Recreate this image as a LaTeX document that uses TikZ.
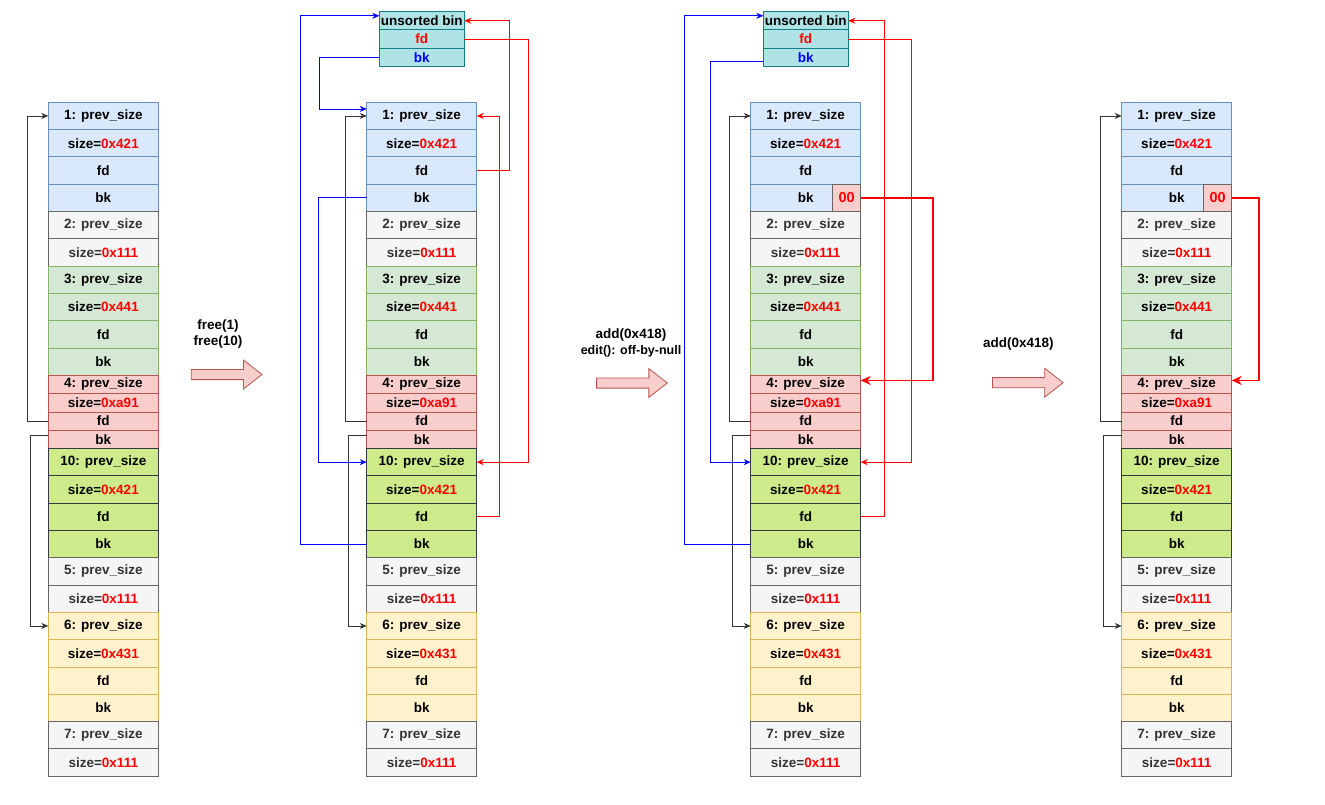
\documentclass[tikz,border=0pt]{standalone}
\usepackage{fontspec}
\setmainfont{Liberation Sans}
\usetikzlibrary{arrows.meta,positioning,shapes.arrows}
\definecolor{bluefill}{HTML}{DAE8FC}
\definecolor{blueedge}{HTML}{6C8EBF}
\definecolor{grayfill}{HTML}{F5F5F5}
\definecolor{grayedge}{HTML}{666666}
\definecolor{graytext}{HTML}{333333}
\definecolor{greenfill}{HTML}{D5E8D4}
\definecolor{greenedge}{HTML}{82B366}
\definecolor{redfill}{HTML}{F8CECC}
\definecolor{rededge}{HTML}{B85450}
\definecolor{limefill}{HTML}{CDEB8B}
\definecolor{limeedge}{HTML}{36393D}
\definecolor{yellowfill}{HTML}{FFF2CC}
\definecolor{yellowedge}{HTML}{D6B656}
\definecolor{binfill}{HTML}{B0E3E6}
\definecolor{binedge}{HTML}{0E8088}
\definecolor{ptrred}{HTML}{FF0000}
\definecolor{ptrblue}{HTML}{0000FF}

\newcommand{\hx}[1]{\textcolor{ptrred}{#1}}

% one column of the heap, #1 = prefix, #2 = left x
\newcommand{\heapcol}[2]{%
  \node[cell,chunkblue,anchor=north west] (#1-1p) at (#2,102.3) {1: prev\_size};
  \node[cell,chunkblue,below=0pt of #1-1p] (#1-1s) {size=\hx{0x421}};
  \node[cell,chunkblue,below=0pt of #1-1s] (#1-1f) {fd};
  \node[cell,chunkblue,below=0pt of #1-1f] (#1-1b) {bk};
  \node[cell,chunkgray,below=0pt of #1-1b] (#1-2p) {2: prev\_size};
  \node[cell,chunkgray,below=0pt of #1-2p] (#1-2s) {size=\hx{0x111}};
  \node[cell,chunkgreen,below=0pt of #1-2s] (#1-3p) {3: prev\_size};
  \node[cell,chunkgreen,below=0pt of #1-3p] (#1-3s) {size=\hx{0x441}};
  \node[cell,chunkgreen,below=0pt of #1-3s] (#1-3f) {fd};
  \node[cell,chunkgreen,below=0pt of #1-3f] (#1-3b) {bk};
  \node[cell,half,chunkred,below=0pt of #1-3b] (#1-4p) {4: prev\_size};
  \node[cell,half,chunkred,below=0pt of #1-4p] (#1-4s) {size=\hx{0xa91}};
  \node[cell,half,chunkred,below=0pt of #1-4s] (#1-4f) {fd};
  \node[cell,half,chunkred,below=0pt of #1-4f] (#1-4b) {bk};
  \node[cell,chunklime,below=0pt of #1-4b] (#1-10p) {10: prev\_size};
  \node[cell,chunklime,below=0pt of #1-10p] (#1-10s) {size=\hx{0x421}};
  \node[cell,chunklime,below=0pt of #1-10s] (#1-10f) {fd};
  \node[cell,chunklime,below=0pt of #1-10f] (#1-10b) {bk};
  \node[cell,chunkgray,below=0pt of #1-10b] (#1-5p) {5: prev\_size};
  \node[cell,chunkgray,below=0pt of #1-5p] (#1-5s) {size=\hx{0x111}};
  \node[cell,chunkyellow,below=0pt of #1-5s] (#1-6p) {6: prev\_size};
  \node[cell,chunkyellow,below=0pt of #1-6p] (#1-6s) {size=\hx{0x431}};
  \node[cell,chunkyellow,below=0pt of #1-6s] (#1-6f) {fd};
  \node[cell,chunkyellow,below=0pt of #1-6f] (#1-6b) {bk};
  \node[cell,chunkgray,below=0pt of #1-6b] (#1-7p) {7: prev\_size};
  \node[cell,chunkgray,below=0pt of #1-7p] (#1-7s) {size=\hx{0x111}};
}

% the unsorted bin head, #1 = prefix, #2 = left x
\newcommand{\bincol}[2]{%
  \node[bincell,anchor=north west] (#1-ub) at (#2,11.7) {unsorted bin};
  \node[bincell,below=0pt of #1-ub,text=ptrred] (#1-ufd) {fd};
  \node[bincell,below=0pt of #1-ufd,text=ptrblue] (#1-ubk) {bk};
}

\begin{document}
\begin{tikzpicture}[x=1pt,y=-1pt,
    font=\fontsize{13.5}{16}\selectfont\bfseries,
    cell/.style={draw,line width=0.8pt,minimum width=110pt,minimum height=27.3pt,
      inner sep=0pt,outer sep=0pt,text=black},
    half/.style={minimum height=18.3pt},
    chunkblue/.style={fill=bluefill,draw=blueedge},
    chunkgray/.style={fill=grayfill,draw=grayedge,text=graytext},
    chunkgreen/.style={fill=greenfill,draw=greenedge},
    chunkred/.style={fill=redfill,draw=rededge},
    chunklime/.style={fill=limefill,draw=limeedge},
    chunkyellow/.style={fill=yellowfill,draw=yellowedge},
    bincell/.style={draw=binedge,fill=binfill,line width=0.8pt,minimum width=85pt,
      minimum height=18.2pt,inner sep=0pt,outer sep=0pt},
    nullbyte/.style={draw=grayedge,fill=redfill,line width=0.8pt,minimum width=28pt,
      minimum height=27.3pt,inner sep=0pt,outer sep=0pt,text=ptrred,
      font=\fontsize{14.5}{16}\selectfont\bfseries},
    blocky/.style={single arrow,draw=rededge,fill=redfill,line width=0.8pt,
      minimum height=70.7pt,inner xsep=0pt,inner ysep=4.7pt,
      single arrow head extend=9.3pt,single arrow tip angle=76,outer sep=0pt},
    steplabel/.style={align=center},
    tip/.style={-{Stealth[length=7pt,width=6pt]}},
    blk/.style={tip,draw=black!80,line width=0.8pt},
    blu/.style={tip,draw=ptrblue,line width=0.8pt},
    rd/.style={tip,draw=ptrred,line width=0.8pt},
    fat/.style={-{Stealth[length=10pt,width=9pt]},draw=ptrred,line width=1.8pt}]
  \useasboundingbox (0,0) rectangle (1325,805);

  % columns
  \heapcol{A}{48.3}
  \heapcol{B}{366.7}
  \heapcol{C}{750.7}
  \heapcol{D}{1121.7}
  \bincol{B}{379.3}
  \bincol{C}{763.3}
  \node[nullbyte,anchor=east] (C-00) at (C-1b.east) {00};
  \node[nullbyte,anchor=east] (D-00) at (D-1b.east) {00};

  % steps
  \node[blocky] (go1) at (223.4,374.5) {};
  \node[steplabel] (lbl1) at (218,334.5) {free(1)\\free(10)};
  \node[blocky] (go2) at (628.7,383) {};
  \node[steplabel] (lbl2) at (631,343) {add(0x418)\\{\fontsize{12.5}{16}\selectfont edit(): off-by-null}};
  \node[blocky] (go3) at (1024.5,382.7) {};
  \node[steplabel] (lbl3) at (1018.3,344) {add(0x418)};

  % column A
  \draw[blk] (A-4f.west) -- ++(-21,0) |- (A-1p.west);
  \draw[blk] ([yshift=4pt]A-4b.west) -- ++(-17.5,0) |- (A-6p.west);

  % column B
  \draw[blk] (B-4f.west) -- ++(-21,0) |- (B-1p.west);
  \draw[blk] ([yshift=4pt]B-4b.west) -- ++(-18.5,0) |- (B-6p.west);
  \draw[blu] (B-ubk.west) -- ++(-60,0) |- ([yshift=7pt]B-1p.west);
  \draw[blu] (B-1b.west) -- ++(-48,0) |- (B-10p.west);
  \draw[blu] (B-10b.west) -- ++(-66,0) |- ([yshift=5pt]B-ub.west);
  \draw[rd] (B-ufd.east) -- ++(64,0) |- (B-10p.east);
  \draw[rd] (B-1f.east) -- ++(33,0) |- (B-ub.east);
  \draw[rd] (B-10f.east) -- ++(23,0) |- (B-1p.east);

  % column C
  \draw[blk] (C-4f.west) -- ++(-21,0) |- (C-1p.west);
  \draw[blk] ([yshift=4pt]C-4b.west) -- ++(-18,0) |- (C-6p.west);
  \draw[blu] ([yshift=-4pt]C-ubk.west) -- ++(-53,0) |- (C-10p.west);
  \draw[blu] (C-10b.west) -- ++(-66.5,0) |- ([yshift=5pt]C-ub.west);
  \draw[rd] (C-ufd.east) -- ++(63.5,0) |- (C-10p.east);
  \draw[rd] (C-10f.east) -- ++(23.5,0) |- (C-ub.east);
  \draw[fat] (C-00.east) -- ++(72.5,0) |- ([yshift=4pt]C-4p.east);

  % column D
  \draw[blk] (D-4f.west) -- ++(-21,0) |- (D-1p.west);
  \draw[blk] ([yshift=4pt]D-4b.west) -- ++(-18,0) |- (D-6p.west);
  \draw[fat] (D-00.east) -- ++(27.3,0) |- ([yshift=4pt]D-4p.east);
\end{tikzpicture}
\end{document}
